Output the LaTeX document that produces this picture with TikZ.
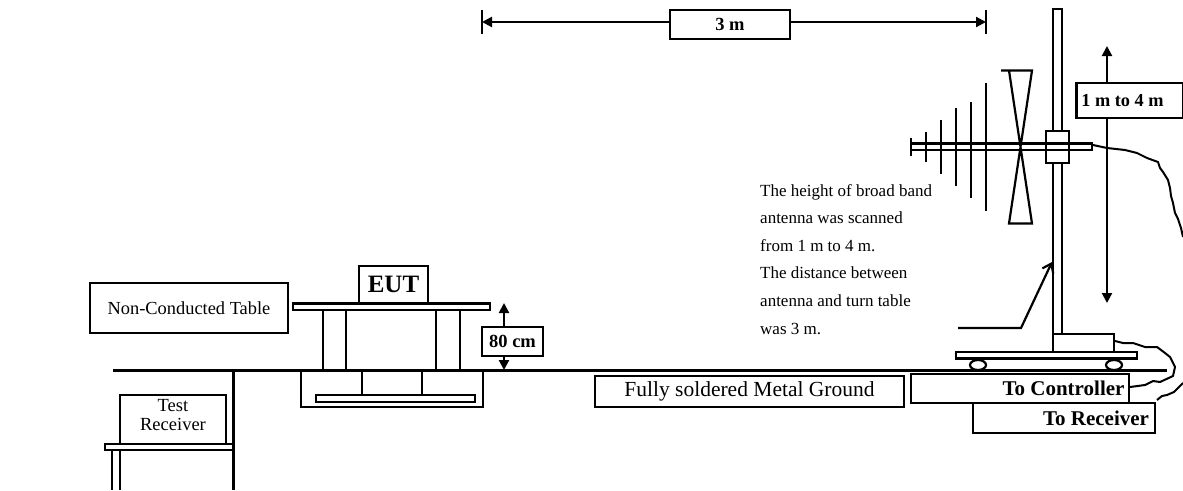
\documentclass[tikz,border=0pt]{standalone}
\usepackage{fontspec}
\setmainfont{Liberation Serif}
\usetikzlibrary{arrows.meta}
\newcommand{\fsz}[2]{\fontsize{#1}{#2}\selectfont}
\tikzset{
  line/.style={draw=black,line width=2.2pt},
  thin line/.style={draw=black,line width=2.1pt},
  box/.style={line,fill=white,inner sep=0pt,anchor=center,align=center},
  dimboth/.style={thin line,{Triangle[width=10pt,length=10pt]}-{Triangle[width=10pt,length=10pt]}},
  cable/.style={draw=black,line width=2pt,line join=round},
}
\begin{document}
\begin{tikzpicture}[x=1pt,y=-1pt]
\useasboundingbox (0,0) rectangle (1183,490);
% ground
\coordinate (gl) at (113,370.5); \coordinate (gr) at (1167,370.5);
\draw[thin line] (gl) -- (gr);
% receiver table
\draw[thin line] (233.5,370.5) -- (233.5,490);
\draw[line] (105,444) rectangle (233.5,450);
\draw[line] (112,450) -- (112,490) (120,450) -- (120,490);
\node[box,minimum width=106pt,minimum height=49pt,font=\fsz{18.5}{19}] (recv) at (173,419.5) {Test\\Receiver\rule[-9pt]{0pt}{9pt}};
% EUT table
\draw[line] (293,303.5) rectangle (490,310);
\draw[line] (323,310) rectangle (346,370);
\draw[line] (436,310) rectangle (460,370);
\node[box,minimum width=69pt,minimum height=37pt,font=\fsz{25}{28}\bfseries] (eut) at (393.5,284.5) {EUT};
\node[box,minimum width=198pt,minimum height=50pt,font=\fsz{18.4}{21}] (nct) at (189,308) {Non-Conducted Table};
% pit
\draw[thin line] (301,370.5) rectangle (483,407);
\draw[line] (362,370.5) rectangle (422,395);
\draw[line] (316,395) rectangle (475,402);
% 80 cm
\coordinate (h80t) at (504,303); \coordinate (h80b) at (504,370);
\draw[dimboth] (h80t) -- (h80b);
\node[box,minimum width=61pt,minimum height=29pt,font=\fsz{18.5}{21}\bfseries] (cm) at (512.5,341.5) {80 cm};
% 3 m
\coordinate (tl) at (482,22); \coordinate (tr) at (986,22);
\draw[dimboth] (tl) -- (tr);
\draw[line] (482,10) -- (482,34) (986,10) -- (986,34);
\node[box,minimum width=120pt,minimum height=29pt,font=\fsz{18.5}{21}\bfseries] (m3) at (730,24.5) {\raisebox{-2pt}{3 m}};
% ground labels
\node[box,minimum width=309pt,minimum height=31pt,font=\fsz{21.5}{24}] (fsg) at (749.5,391.5) {Fully soldered Metal Ground};
\node[box,minimum width=182pt,minimum height=30pt,font=\fsz{21}{23}\bfseries] (trx) at (1064,418) {\hspace*{64pt}To Receiver};
\node[box,minimum width=218pt,minimum height=29pt,font=\fsz{21}{23}\bfseries] (tct) at (1020,388.5) {\hspace*{87pt}To Controller};
% turntable
\draw[line] (956,352) rectangle (1137,358.5);
\draw[line] (978,365) ellipse [x radius=8,y radius=5];
\draw[line] (1114,365) ellipse [x radius=8,y radius=5];
\draw[line] (1053,334) rectangle (1114,352);
% pole
\draw[line] (1053,9) rectangle (1062,334);
% vertical travel
\coordinate (ut) at (1107,46); \coordinate (ub) at (1107,303);
\draw[dimboth] (ut) -- (ub);
% antenna
\draw[line] (911,143.5) rectangle (1092,150);
\draw[line,fill=white] (1046,131) rectangle (1069,163);
\draw[line] (1046,143.5) -- (1092,143.5) -- (1092,150) -- (1046,150);
\draw[line] (911,138) -- (911,156);
\draw[line] (926,132) -- (926,162);
\draw[line] (941,120) -- (941,174);
\draw[line] (956,108) -- (956,186);
\draw[line] (971,102) -- (971,198);
\draw[line] (986,83) -- (986,211);
\draw[line,line join=miter] (1001,70.5) -- (1032,70.5) -- (1009,223.5) -- (1032,223.5) -- (1009,70.5);
\node[box,minimum width=107pt,minimum height=35pt,font=\fsz{18.3}{21}\bfseries] (m14) at (1130,100.5) {1 m to 4 m\hspace*{15pt}};
% cables
\draw[cable] (1093,145) -- (1107,148) -- (1125,150) -- (1137,153) -- (1147,158) -- (1158,162) -- (1160,168) -- (1163,172) -- (1168,180) -- (1170,188) -- (1171,196) -- (1173,203) -- (1175,213) -- (1178,219) -- (1181,228) -- (1183,237);
\draw[cable] (1115,341) -- (1123,343) -- (1133,343) -- (1145,347) -- (1157,347) -- (1165,353) -- (1170,357) -- (1175,367) -- (1173,376) -- (1160,382) -- (1153,381) -- (1145,385) -- (1130,387);
\draw[cable] (1157,400) -- (1162,396) -- (1167,395) -- (1174,392) -- (1183,383);
% leader
\coordinate (la) at (958,328); \coordinate (lb) at (1021,328); \coordinate (lc) at (1052,262);
\draw[line,-{Straight Barb[width=12pt,length=8pt]}] (la) -- (lb) -- (lc);
% note
\node[anchor=north west,inner sep=0pt,align=left,font=\fsz{17}{27.6}] (note) at (760,184) {The height of broad band\\antenna was scanned\\from 1 m to 4 m.\\The distance between\\antenna and turn table\\was 3 m.};
\end{tikzpicture}
\end{document}
